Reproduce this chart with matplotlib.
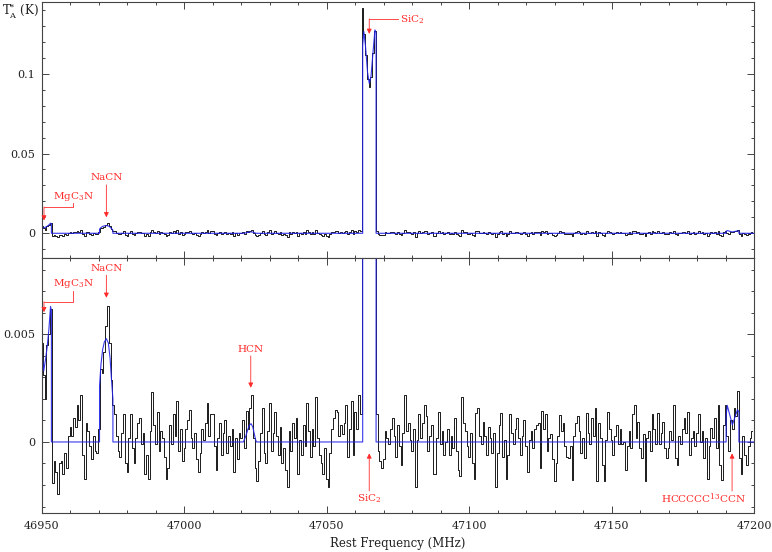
import numpy as np
import matplotlib
matplotlib.use('Agg')
import matplotlib.pyplot as plt
from matplotlib.ticker import MultipleLocator

plt.rcParams['font.family'] = ['DejaVu Serif']
plt.rcParams['mathtext.fontset'] = 'dejavuserif'

#=== spectrum (antenna temperature, mK), 0.625 MHz channels from 46950 MHz ===
f_start = 46950.0
chan_width = 0.625
spec_mK = [
    4.6, 3.1, 2.0, 4.5, 5.0, 6.2, -1.9, -0.9,
    -1.4, -2.4, -1.0, -0.9, -1.5, -0.5, -1.2, 0.3,
    0.7, 0.3, 1.1, 0.7, 1.7, 1.0, 2.2, -0.6,
    -1.7, 0.9, 0.5, -0.2, -0.8, 0.3, -0.4, -0.5,
    0.6, 3.4, 3.2, 4.2, 5.4, 6.3, 4.6, 2.9,
    1.7, 1.3, 0.3, -0.4, -0.7, 0.4, 1.3, -1.0,
    -1.4, 0.2, 1.3, -0.3, -1.0, 0.2, 0.9, 1.1,
    -0.1, 0.4, -1.5, -0.6, -1.7, 0.5, 2.3, 0.8,
    -0.1, 1.4, -0.4, 0.5, 0.2, -0.7, -1.7, -1.2,
    0.8, -0.1, 1.3, 0.3, 1.9, -0.4, 0.6, -0.9,
    -0.3, 0.6, 1.0, 1.5, 0.2, -0.3, 0.4, -0.8,
    -1.4, -0.5, 0.6, 0.1, 0.9, 1.8, 0.3, 1.3,
    1.3, -0.2, -1.3, 0.2, 0.9, -0.6, 0.4, 1.0,
    -0.5, 0.3, -0.2, 0.6, -1.4, 0.2, -0.8, 0.4,
    0.2, 1.0, -0.3, 1.45, 0.6, 1.6, 2.2, 0.2,
    -1.2, -1.8, -0.9, 0.4, 1.6, -0.5, -1.0, 0.5,
    1.8, -0.4, 0.4, 1.4, 0.3, -0.6, 0.7, -1.0,
    -0.3, -1.3, -2.1, 0.5, -0.4, 0.9, 0.2, 1.1,
    -1.5, 0.1, -0.6, 0.8, -0.2, 1.8, 0.5, -0.7,
    0.6, -0.2, 2.1, 0.2, -0.6, -1.0, -1.5, -0.3,
    -1.7, -2.1, -0.5, 0.6, 1.1, 1.5, 1.4, 0.3,
    0.8, 0.35, 0.9, 1.7, -0.7, 0.6, 1.9, -0.6,
    1.4, 0.6, 2.2, 1.3, 141.0, 125.0, 112.0, 97.0,
    92.0, 98.0, 113.0, 127.0, 1.3, -0.4, -0.9, -1.2,
    -0.8, 0.5, 0.2, -0.1, 0.6, 1.1, 0.3, -0.7,
    0.8, -0.2, -1.05, 0.4, 2.2, 0.5, 0.9, 0.1,
    -0.4, 0.6, -2.1, 0.1, 1.3, 0.2, 0.9, 1.7,
    1.2, -0.4, 0.3, 0.8, -1.5, -1.5, 0.2, 1.4,
    -0.1, 0.5, -0.6, 0.0, 0.6, -0.6, 0.3, -0.3,
    1.1, -0.4, -1.3, -1.6, 2.1, 0.9, 0.5, -0.2,
    -0.7, 0.4, -1.0, -1.7, 1.35, 1.6, 0.3, -0.1,
    0.95, 0.3, -0.6, 0.7, 0.2, -0.5, 0.4, -2.1,
    -0.5, 0.8, 1.35, -0.7, 0.1, -1.7, -0.6, 1.3,
    0.4, -0.1, 0.6, 1.1, 0.2, -0.6, 0.3, 1.0,
    -0.2, -1.4, 0.1, 0.5, -0.3, 0.6, 0.8, 0.9,
    -1.2, 1.45, 0.6, 1.3, -0.4, 0.2, 0.35, -0.8,
    -1.8, -1.0, 0.3, 1.25, 0.5, 0.9, -0.2, -0.7,
    -0.75, -0.2, -1.75, 0.3, 0.9, 1.2, 0.5, -0.5,
    0.2, -0.75, 1.35, 0.4, -0.1, 1.1, 0.3, 1.6,
    -1.8, 0.9, 0.2, -1.05, -1.8, 0.1, 1.4, 0.6,
    0.1, -0.6, 0.3, 0.8, -0.1, 0.6, -0.1, 0.0,
    -1.3, -0.2, 0.5, -0.3, 1.3, 1.7, 0.2, 0.95,
    -0.3, -0.75, 0.35, -1.8, 0.2, 0.5, -0.4, 1.3,
    0.6, -0.1, 1.35, -0.1, 0.4, 0.95, -0.3, -0.75,
    -0.3, 0.5, 0.1, 1.7, -0.75, -1.05, 0.3, -0.1,
    0.6, 1.1, 0.4, 1.4, -0.6, 0.2, 0.5, -0.2,
    0.4, 1.3, 0.0, 0.5, -0.75, 0.2, -1.7, -0.2,
    0.65, 0.2, 1.1, -0.3, 1.7, -1.05, -1.75, 0.8,
    1.7, 0.3, -0.4, 1.0, 0.6, 1.6, 1.2, 2.35,
    -0.75, -1.5, 0.3, -0.6, -1.05, -0.2, 0.2, 0.5,
]

#=== fitted line model (blue), MHz / mK ===
fit_freq = [46950.0, 46950.6, 46951.2, 46951.8, 46952.4, 46953.0, 46953.3, 46953.3,
            46970.2, 46970.2, 46970.7, 46971.3, 46971.9, 46972.6, 46973.3, 46973.9, 46974.4, 46974.9, 46974.9,
            47020.7, 47021.5, 47022.2, 47022.8, 47023.4, 47024.0, 47024.5, 47025.0, 47025.3,
            47062.6, 47062.6, 47063.0, 47063.6, 47064.3, 47064.9, 47065.5, 47066.2, 47066.9, 47067.3, 47067.3,
            47190.2, 47190.2, 47190.6, 47192.4, 47194.2, 47194.7, 47194.7, 47200.0]
fit_mK = [4.2, 3.3, 3.8, 4.4, 5.2, 6.3, 6.1, 0.0,
          0.0, 2.6, 3.6, 4.3, 4.65, 4.8, 4.6, 3.9, 2.9, 2.0, 0.0,
          0.0, 0.25, 0.55, 0.78, 0.85, 0.7, 0.4, 0.1, 0.0,
          0.0, 118.0, 126.5, 117.0, 101.0, 94.0, 98.0, 113.0, 127.5, 126.0, 0.0,
          0.0, 1.2, 1.7, 0.8, 1.5, 1.4, 0.0, 0.0]

freq = f_start + chan_width * np.arange(len(spec_mK))
t_a = np.array(spec_mK) / 1000.0
fit_f = np.array(fit_freq)
fit_t = np.array(fit_mK) / 1000.0

red = '#ff2a2a'
frame = '#444444'

fig = plt.figure(figsize=(7.72, 5.52), dpi=100)
ax1 = fig.add_axes([0.0544, 0.5326, 0.9223, 0.4638])
ax2 = fig.add_axes([0.0544, 0.0707, 0.9223, 0.4619])

for ax in (ax1, ax2):
    ax.step(freq, t_a, where='mid', color='#1a1a1a', lw=0.7)
    ax.plot(fit_f, fit_t, color='#2020e8', lw=0.8, alpha=0.9)
    ax.set_xlim(46950, 47200)
    ax.xaxis.set_major_locator(MultipleLocator(50))
    ax.xaxis.set_minor_locator(MultipleLocator(10))
    ax.tick_params(which='both', direction='in', top=True, right=True,
                   colors=frame, labelcolor='#222222', labelsize=8, width=0.7)
    ax.tick_params(which='major', length=5)
    ax.tick_params(which='minor', length=2.5)
    ax.tick_params(axis='x', pad=6)
    ax.tick_params(axis='y', pad=5)
    for s in ax.spines.values():
        s.set_color(frame)
        s.set_linewidth(0.8)

ax1.set_ylim(-0.0155, 0.145)
ax1.set_yticks([0, 0.05, 0.1], ['0', '0.05', '0.1'])
ax1.yaxis.set_minor_locator(MultipleLocator(0.01))
ax1.tick_params(axis='x', labelbottom=False)

ax2.set_ylim(-0.0033, 0.00855)
ax2.set_yticks([0, 0.005], ['0', '0.005'])
ax2.yaxis.set_minor_locator(MultipleLocator(0.001))
ax2.set_xticks([46950, 47000, 47050, 47100, 47150, 47200],
               ['46950', '47000', '47050', '47100', '47150', '47200'])
ax2.set_xlabel('Rest Frequency (MHz)', fontsize=8.5, color='#222222', labelpad=4)

fig.text(0.003, 0.972, r'T$_{\rm A}^{*}$ (K)', fontsize=8.5, color='#222222')

arrow = dict(arrowstyle='-|>', color=red, lw=0.6, mutation_scale=7, shrinkA=0, shrinkB=0)


def label(ax, txt, tx, ty, ha='center'):
    ax.text(tx, ty, txt, color=red, fontsize=7.5, ha=ha, va='center')


def pointer(ax, x0, y0, x1, y1):
    ax.annotate('', xy=(x1, y1), xytext=(x0, y0), arrowprops=arrow)


def leg(ax, xs, ys):
    ax.plot(xs, ys, color=red, lw=0.6, clip_on=False)


# top panel labels
label(ax1, r'MgC$_3$N', 46961.1, 0.0232)
leg(ax1, [46960.9, 46960.9, 46950.7], [0.0190, 0.0165, 0.0165])
pointer(ax1, 46950.7, 0.0165, 46950.7, 0.0080)
label(ax1, 'NaCN', 46972.6, 0.0350)
pointer(ax1, 46972.6, 0.0303, 46972.6, 0.0100)
label(ax1, r'SiC$_2$', 47075.7, 0.1338, ha='left')
leg(ax1, [47075.1, 47064.9], [0.1344, 0.1344])
pointer(ax1, 47064.9, 0.1344, 47064.9, 0.1250)

# bottom panel labels
label(ax2, r'MgC$_3$N', 46961.1, 0.00735)
leg(ax2, [46960.9, 46960.9, 46950.7], [0.0070, 0.00652, 0.00652])
pointer(ax2, 46950.7, 0.00652, 46950.7, 0.00603)
label(ax2, 'NaCN', 46972.6, 0.00808)
pointer(ax2, 46972.6, 0.00775, 46972.6, 0.00670)
label(ax2, 'HCN', 47023.3, 0.00432)
pointer(ax2, 47023.3, 0.00400, 47023.3, 0.00252)
label(ax2, r'SiC$_2$', 47064.9, -0.00266)
pointer(ax2, 47064.9, -0.00228, 47064.9, -0.00053)
label(ax2, r'HCCCCC$^{13}$CCN', 47182.4, -0.00262)
pointer(ax2, 47192.3, -0.00228, 47192.3, -0.00053)

fig.savefig('out.png', dpi=100)
